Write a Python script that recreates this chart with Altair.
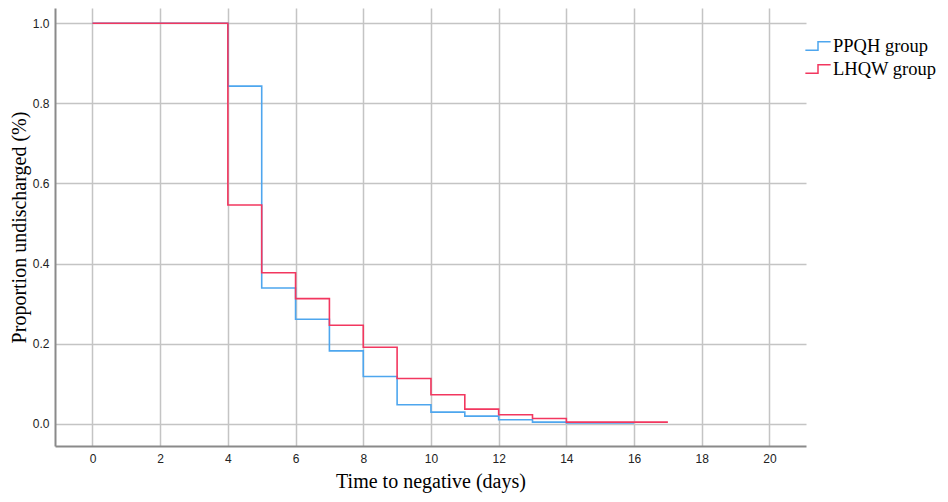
import altair as alt
import pandas as pd

groups = ["PPQH group", "LHQW group"]
ppqh_t = [0, 4, 5, 6, 7, 8, 9, 10, 11, 12, 13, 14, 16]
ppqh_s = [1.0, 0.843, 0.339, 0.261, 0.182, 0.118, 0.0475, 0.029, 0.019, 0.010, 0.004, 0.002, 0.002]
lhqw_t = [0, 4, 5, 6, 7, 8, 9, 10, 11, 12, 13, 14, 17]
lhqw_s = [1.0, 0.546, 0.377, 0.3125, 0.246, 0.191, 0.113, 0.0725, 0.0365, 0.0225, 0.013, 0.004, 0.004]
colors = ["#4ea6ee", "#f2375f"]
x_ticks = list(range(0, 21, 2))
y_ticks = [0.0, 0.2, 0.4, 0.6, 0.8, 1.0]

df_p = pd.DataFrame({"t": ppqh_t, "s": ppqh_s, "g": groups[0]})
df_l = pd.DataFrame({"t": lhqw_t, "s": lhqw_s, "g": groups[1]})

x = alt.X("t:Q", title="Time to negative (days)",
          scale=alt.Scale(domain=[-1.107, 21.08], nice=False, zero=False),
          axis=alt.Axis(values=x_ticks, ticks=False, labelPadding=7,
                        titlePadding=7))
y = alt.Y("s:Q", title="Proportion undischarged (%)",
          scale=alt.Scale(domain=[-0.0555, 1.038], nice=False, zero=False),
          axis=alt.Axis(values=y_ticks, format=".1f", ticks=False, labelPadding=6,
                        titlePadding=3))
color = alt.Color("g:N", title=None,
                  scale=alt.Scale(domain=groups, range=colors),
                  legend=alt.Legend(orient="none", legendX=751, legendY=26,
                                    symbolType="M -1.15 0.38 L 0 0.38 L 0 -0.38 L 1.15 -0.38",
                                    symbolSize=484, symbolStrokeWidth=1.5,
                                    symbolFillColor="transparent",
                                    labelFont="Liberation Serif", labelFontSize=18.5,
                                    labelLimit=200,
                                    labelColor="#000", labelOffset=3, rowPadding=1))

base_p = alt.Chart(df_p).mark_line(interpolate="step-after", strokeWidth=1.6).encode(x=x, y=y, color=color)
base_l = alt.Chart(df_l).mark_line(interpolate="step-after", strokeWidth=1.6).encode(x=x, y=y, color=color)

chart = alt.layer(base_p, base_l).properties(
    width=751, height=438,
    autosize=alt.AutoSizeParams(type="none"),
    padding={"left": 47, "top": 0, "right": 134, "bottom": 48},
).configure_view(stroke=None).configure_axis(
    grid=True, gridColor="#c4c4c4", gridWidth=1.5,
    domainColor="#8a8a8a", domainWidth=2,
    labelFont="Liberation Sans", labelFontSize=12, labelColor="#222",
    titleFont="Liberation Serif", titleFontSize=20, titleFontWeight="normal",
    titleColor="#000",
)

chart.save("out.html", embed_options={"renderer": "svg", "actions": False})
